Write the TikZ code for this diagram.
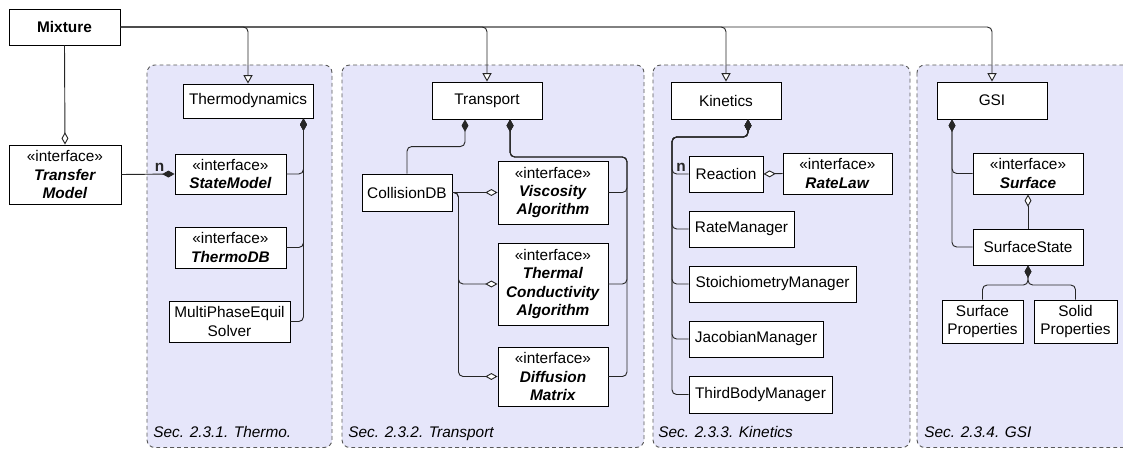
\documentclass[tikz,border=0pt]{standalone}
\usepackage{fontspec}
\setmainfont{Liberation Sans}
\usetikzlibrary{arrows.meta}
\definecolor{lavender}{RGB}{230,230,250}
\newcommand{\iface}{«interface»}
\newcommand{\bi}[1]{\textbf{\textit{#1}}}
\tikzset{
  cls/.style={draw, fill=white, align=center, inner sep=2pt, line width=0.6pt, font=\fontsize{10}{12}\selectfont},
  sz/.style 2 args={minimum width=#1*0.65pt, minimum height=#2*0.65pt},
  conn/.style={line width=0.6pt, black!85, rounded corners=3pt},
  inherit/.style={conn, -{Triangle[open, fill=white, width=6pt, length=5.5pt]}},
  comp/.style={conn, -{Diamond[width=4.5pt, length=8pt]}},
  aggr/.style={conn, -{Diamond[open, fill=white, width=4.5pt, length=8pt]}},
  panel/.style={draw=black!65, dash pattern=on 2.5pt off 2pt, fill=lavender, rounded corners=5pt, line width=0.6pt},
  seclbl/.style={anchor=base west, inner sep=0pt, font=\fontsize{10}{12}\selectfont\itshape},
  mult/.style={inner sep=1.5pt, font=\fontsize{10}{12}\selectfont\bfseries}
}

\begin{document}
\begin{tikzpicture}[x=0.65pt, y=-0.65pt]
    \useasboundingbox (0,0) rectangle (1123,449);

    % packages
    \draw[panel] (147,65) rectangle (332,447.5);
    \draw[panel] (342,65) rectangle (644,447.5);
    \draw[panel] (653,65) rectangle (910,447.5);
    \draw[panel] (917,65) rectangle (1145,447.5);
    \node[seclbl] (secThermo) at (153,437) {Sec. 2.3.1. Thermo.};
    \node[seclbl] (secTransport) at (348,437) {Sec. 2.3.2. Transport};
    \node[seclbl] (secKinetics) at (658,437) {Sec. 2.3.3. Kinetics};
    \node[seclbl] (secGSI) at (924,437) {Sec. 2.3.4. GSI};

    % classes
    \node[cls, sz={111}{36}, font=\fontsize{10}{12}\selectfont\bfseries] (Mixture) at (64.5,27) {Mixture};
    \node[cls, sz={112}{59}] (Transfer) at (65,174.5) {\iface\\\bi{Transfer}\\\bi{Model}};

    \node[cls, sz={130}{34}] (Thermo) at (248,101) {Thermodynamics};
    \node[cls, sz={111}{40}] (StateModel) at (230.5,174) {\iface\\\bi{StateModel}};
    \node[cls, sz={111}{41}] (ThermoDB) at (230.5,247.5) {\iface\\\bi{ThermoDB}};
    \node[cls, sz={121}{41}] (MultiPhase) at (229.5,321.5) {MultiPhaseEquil\\Solver};

    \node[cls, sz={110}{37}] (Transport) at (487,100.5) {Transport};
    \node[cls, sz={90}{37}] (CollisionDB) at (407,192.5) {CollisionDB};
    \node[cls, sz={110}{63}] (Viscosity) at (553,192.5) {\iface\\\bi{Viscosity}\\\bi{Algorithm}};
    \node[cls, sz={110}{82}] (Thermal) at (553,284) {\iface\\\bi{Thermal}\\\bi{Conductivity}\\\bi{Algorithm}};
    \node[cls, sz={110}{59}] (Diffusion) at (553,376.5) {\iface\\\bi{Diffusion}\\\bi{Matrix}};

    \node[cls, sz={110}{37}] (Kinetics) at (726,100.5) {Kinetics};
    \node[cls, sz={74}{36}] (Reaction) at (726,174) {Reaction};
    \node[cls, sz={109}{41}] (RateLaw) at (837.5,173.5) {\iface\\\bi{RateLaw}};
    \node[cls, sz={105}{36}] (RateMgr) at (741.5,229) {RateManager};
    \node[cls, sz={167}{36}] (StoichMgr) at (772.5,284) {StoichiometryManager};
    \node[cls, sz={134}{36}] (JacobianMgr) at (756,339) {JacobianManager};
    \node[cls, sz={143}{37}] (ThirdBodyMgr) at (760.5,394.5) {ThirdBodyManager};

    \node[cls, sz={110}{37}] (GSI) at (992,100.5) {GSI};
    \node[cls, sz={110}{41}] (Surface) at (1028,173.5) {\iface\\\bi{Surface}};
    \node[cls, sz={110}{36}] (SurfState) at (1028,247) {SurfaceState};
    \node[cls, sz={81}{43}] (SurfProps) at (982.5,321.5) {Surface\\Properties};
    \node[cls, sz={83}{43}] (SolidProps) at (1075.5,321.5) {Solid\\Properties};

    % bus corners
    \coordinate (transBus) at (627,157);
    \coordinate (kinBus) at (672,137);
    \coordinate (gsiBus) at (1028,285);

    % inheritance
    \draw[inherit] (Mixture.east) -| (Thermo.north);
    \draw[inherit] (Mixture.east) -| (Transport.north);
    \draw[inherit] (Mixture.east) -| (Kinetics.north);
    \draw[inherit] (Mixture.east) -| (GSI.north);

    % mixture / transfer model
    \draw[aggr] (Mixture.south) -- (Transfer.north);
    \draw[comp] (Transfer.east) -- (StateModel.west) node[mult, pos=0.72, above] {n};

    % thermodynamics
    \draw[comp] (StateModel.east) -| ([xshift=-6.5pt]Thermo.south east);
    \draw[comp] (ThermoDB.east) -| ([xshift=-6.5pt]Thermo.south east);
    \draw[comp] (MultiPhase.east) -| ([xshift=-6.5pt]Thermo.south east);

    % transport
    \draw[comp] (CollisionDB.north) -- ++(0,-27) -| ([xshift=-14.3pt]Transport.south);
    \draw[comp] (Viscosity.east) -| (transBus) -| ([xshift=15pt]Transport.south);
    \draw[comp] (Thermal.east) -| (transBus) -| ([xshift=15pt]Transport.south);
    \draw[comp] (Diffusion.east) -| (transBus) -| ([xshift=15pt]Transport.south);
    \draw[aggr] (CollisionDB.east) -- (Viscosity.west);
    \draw[aggr] (CollisionDB.east) -- ++(6,0) |- (Thermal.west);
    \draw[aggr] (CollisionDB.east) -- ++(6,0) |- (Diffusion.west);

    % kinetics
    \draw[comp] (Reaction.west) node[mult, above left] {n} -| (kinBus) -| ([xshift=14.3pt]Kinetics.south);
    \draw[comp] (RateMgr.west) -| (kinBus) -| ([xshift=14.3pt]Kinetics.south);
    \draw[comp] (StoichMgr.west) -| (kinBus) -| ([xshift=14.3pt]Kinetics.south);
    \draw[comp] (JacobianMgr.west) -| (kinBus) -| ([xshift=14.3pt]Kinetics.south);
    \draw[comp] (ThirdBodyMgr.west) -| (kinBus) -| ([xshift=14.3pt]Kinetics.south);
    \draw[aggr] (RateLaw.west) -- (Reaction.east);

    % gsi
    \draw[comp] (Surface.west) -| ([xshift=-26pt]GSI.south);
    \draw[comp] (SurfState.west) -| ([xshift=-26pt]GSI.south);
    \draw[aggr] (SurfState.north) -- (Surface.south);
    \draw[comp] (SurfProps.north) |- (gsiBus) -- (SurfState.south);
    \draw[comp] (SolidProps.north) |- (gsiBus) -- (SurfState.south);
\end{tikzpicture}
\end{document}
